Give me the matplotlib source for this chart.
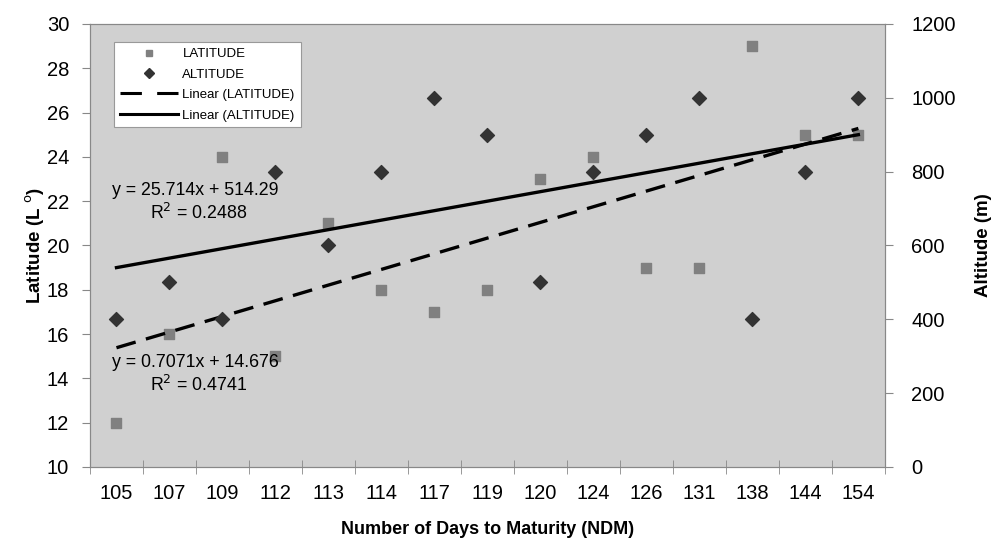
#!/usr/bin/env python3
"""Latitude and altitude vs number of days to maturity, with linear trend lines."""
import numpy as np
import matplotlib
matplotlib.use("Agg")
import matplotlib.pyplot as plt
from matplotlib.lines import Line2D

plt.rcParams["font.family"] = ["Liberation Sans", "DejaVu Sans"]

NDM = ["105", "107", "109", "112", "113", "114", "117", "119", "120",
       "124", "126", "131", "138", "144", "154"]
LATITUDE = [12, 16, 24, 15, 21, 18, 17, 18, 23, 24, 19, 19, 29, 25, 25]
ALTITUDE = [400, 500, 400, 800, 600, 800, 1000, 900, 500, 800, 900, 1000, 400, 800, 1000]


def main():
    x = np.arange(1, len(NDM) + 1)
    lat = np.array(LATITUDE, dtype=float)
    alt = np.array(ALTITUDE, dtype=float)
    # Excel-style trend lines: fitted against the category index 1..n
    m_lat, b_lat = np.polyfit(x, lat, 1)
    m_alt, b_alt = np.polyfit(x, alt, 1)
    r2_lat = np.corrcoef(x, lat)[0, 1] ** 2
    r2_alt = np.corrcoef(x, alt)[0, 1] ** 2

    fig = plt.figure(figsize=(9.92, 5.39), dpi=100)
    ax = fig.add_axes([0.0907, 0.1336, 0.8013, 0.822])
    ax2 = ax.twinx()
    ax.set_facecolor("#d0d0d0")
    ax.set_zorder(ax2.get_zorder() - 1)
    ax2.patch.set_visible(False)

    ax.scatter(x, lat, marker="s", s=55, color="#808080", zorder=3)
    ax2.scatter(x, alt, marker="D", s=50, color="#333333", zorder=3)
    xl = np.array([x[0], x[-1]])
    ax.plot(xl, m_lat * xl + b_lat, color="black", lw=2.4, ls=(0, (6, 3.2)), zorder=4)
    ax2.plot(xl, m_alt * xl + b_alt, color="black", lw=2.4, zorder=4)

    ax.set_xlim(0.5, len(NDM) + 0.5)
    ax.set_ylim(10, 30)
    ax.set_yticks(np.arange(10, 31, 2))
    ax2.set_ylim(0, 1200)
    ax2.set_yticks(np.arange(0, 1201, 200))
    ax.set_xticks(x)
    ax.set_xticklabels(NDM)
    ax.set_xticks(np.arange(0.5, len(NDM) + 1), minor=True)
    for a in (ax, ax2):
        a.tick_params(labelsize=14.5, color="#888888", length=6)
        for s in a.spines.values():
            s.set_color("#888888")
    ax.tick_params(axis="y", pad=9)
    ax2.tick_params(axis="y", pad=13)
    ax.tick_params(axis="x", which="major", length=0, pad=12)
    ax.tick_params(axis="x", which="minor", direction="inout", length=10, color="#888888")

    ax.set_ylabel(r"Latitude (L $^{\mathrm{o}}$)", fontsize=13.5, fontweight="bold", labelpad=0)
    ax2.set_ylabel("Altitude (m)", fontsize=13.5, fontweight="bold", labelpad=14)
    ax.set_xlabel("Number of Days to Maturity (NDM)", fontsize=13, fontweight="bold", labelpad=13)

    tkw = dict(transform=ax.transAxes, fontsize=12.8, va="center")
    ax.text(0.028, 0.625, f"y = {m_alt:.3f}x + {b_alt:.2f}", **tkw)
    ax.text(0.075, 0.573, f"R$^2$ = {r2_alt:.4f}", **tkw)
    ax.text(0.028, 0.235, f"y = {m_lat:.4f}x + {b_lat:.3f}", **tkw)
    ax.text(0.075, 0.185, f"R$^2$ = {r2_lat:.4f}", **tkw)

    handles = [
        Line2D([], [], ls="none", marker="s", ms=5, color="#808080"),
        Line2D([], [], ls="none", marker="D", ms=5, color="#333333"),
        Line2D([], [], color="black", lw=2.2, ls=(0, (7, 5))),
        Line2D([], [], color="black", lw=2.2),
    ]
    labels = ["LATITUDE", "ALTITUDE", "Linear (LATITUDE)", "Linear (ALTITUDE)"]
    leg = ax.legend(handles, labels, loc="upper left", bbox_to_anchor=(0.030, 0.959),
                    borderaxespad=0, fontsize=9.5, frameon=True, fancybox=False,
                    framealpha=1, edgecolor="#999999", handlelength=4.4,
                    handletextpad=0.35, labelspacing=0.62, borderpad=0.45)
    leg.get_frame().set_linewidth(0.8)
    leg.set_zorder(10)

    fig.savefig("out.png", dpi=100)
    plt.close(fig)


if __name__ == "__main__":
    main()
